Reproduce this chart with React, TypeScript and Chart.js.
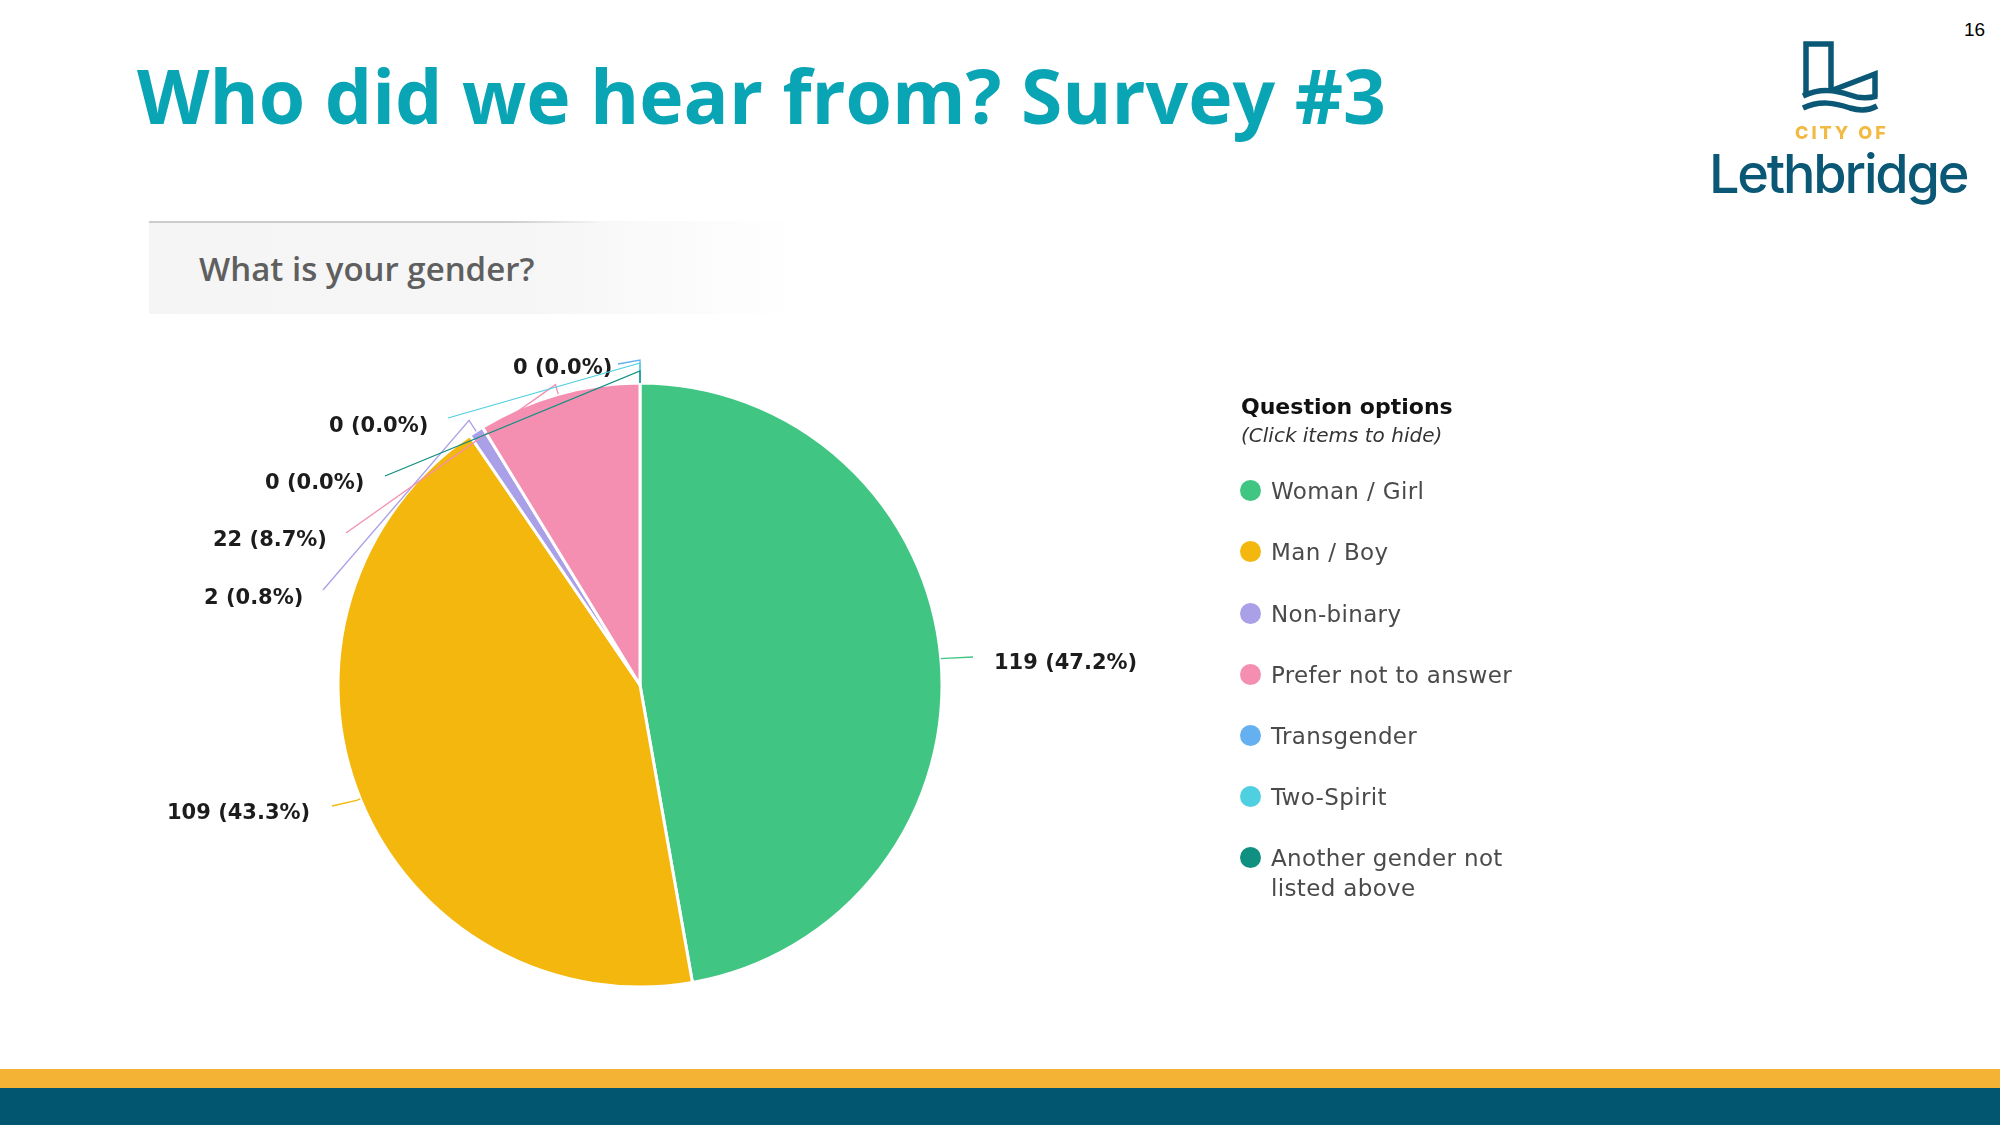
import React, { useRef, useEffect } from 'react';
import { Chart, registerables } from 'chart.js';

Chart.register(...registerables);

const categories = ['Woman / Girl', 'Man / Boy', 'Non-binary', 'Prefer not to answer', 'Transgender', 'Two-Spirit', 'Another gender not listed above'];
const counts = [119, 109, 2, 22, 0, 0, 0];
const colors = ['#41c582', '#f3b70d', '#a9a0e8', '#f48fb1', '#64b0f0', '#4fd0e0', '#0f9080'];

// canvas sits at top 340 on the page, so y values here are canvas y
const calloutLayout = [
    { out: 4, endX: 973, endY: 317, textX: 994, textY: 324 },
    { out: 4, endX: 332, endY: 466, textX: 167, textY: 474 },
    { out: 13, endX: 323, endY: 250, textX: 204, textY: 259 },
    { out: 10, endX: 346, endY: 193, textX: 213, textY: 201 },
    { out: 23, endX: 618, endY: 24, textX: 513, textY: 29 },
    { out: 20, endX: 448, endY: 78, textX: 329, textY: 87 },
    { out: 12, endX: 385, endY: 136, textX: 265, textY: 144 },
];

const total = counts.reduce((a, b) => a + b, 0);

const calloutPlugin = {
    id: 'callouts',
    afterDatasetsDraw(chart: any) {
        const ctx = chart.ctx;
        const arcs = chart.getDatasetMeta(0).data;
        ctx.save();
        arcs.forEach((arc: any, i: number) => {
            const l = calloutLayout[i];
            const mid = (arc.startAngle + arc.endAngle) / 2;
            const r = arc.outerRadius;
            ctx.strokeStyle = colors[i];
            ctx.lineWidth = 1.3;
            ctx.beginPath();
            ctx.moveTo(arc.x + Math.cos(mid) * r, arc.y + Math.sin(mid) * r);
            ctx.lineTo(arc.x + Math.cos(mid) * (r + l.out), arc.y + Math.sin(mid) * (r + l.out));
            ctx.lineTo(l.endX, l.endY);
            ctx.stroke();

            const pct = ((counts[i] / total) * 100).toFixed(1);
            ctx.fillStyle = '#1c1c1c';
            ctx.font = 'bold 21px "DejaVu Sans"';
            ctx.textAlign = 'left';
            ctx.textBaseline = 'middle';
            ctx.fillText(`${counts[i]} (${pct}%)`, l.textX, l.textY);
        });
        ctx.restore();
    },
};

const abs = (left: number, top: number, extra: React.CSSProperties): React.CSSProperties => ({
    position: 'absolute',
    left,
    top,
    whiteSpace: 'nowrap',
    ...extra,
});

const legendTops = [491, 552, 614, 675, 736, 797, 858];

const App: React.FC = () => {
    const chartRef = useRef<HTMLCanvasElement | null>(null);

    useEffect(() => {
        if (!chartRef.current) return;
        const chartInstance = new Chart(chartRef.current, {
            type: 'pie',
            data: {
                labels: categories,
                datasets: [{
                    data: counts,
                    backgroundColor: colors,
                    borderColor: '#ffffff',
                    borderWidth: 3,
                    radius: 302,
                }],
            },
            options: {
                responsive: false,
                animation: false,
                devicePixelRatio: 1,
                plugins: {
                    legend: { display: false },
                    tooltip: { enabled: false },
                },
            },
            plugins: [calloutPlugin],
        } as any);
        return () => {
            chartInstance.destroy();
        };
    }, []);

    return (
        <div style={{ position: 'absolute', left: 0, top: 0, width: 2000, height: 1125, overflow: 'hidden', background: '#fff' }}>
            <div style={abs(137, 43, { font: 'bold 75px "Open Sans"', color: '#0aa5b5', lineHeight: '104px' })}>
                Who did we hear from? Survey #3
            </div>
            <div style={abs(1964, 19, { font: '19px "Liberation Sans"', color: '#000' })}>16</div>

            <div style={{
                position: 'absolute', left: 149, top: 221, width: 650, height: 93,
                background: 'linear-gradient(to right, #f5f5f5 0%, #f6f6f6 60%, #ffffff 100%)',
            }} />
            <div style={{
                position: 'absolute', left: 149, top: 221, width: 450, height: 2,
                background: 'linear-gradient(to right, #cccccc 80%, #f5f5f5 100%)',
            }} />
            <div style={abs(199, 246, { font: '600 33px "Open Sans"', color: '#5f5f5f', lineHeight: '46px' })}>
                What is your gender?
            </div>

            <canvas ref={chartRef} width={1280} height={690} style={{ position: 'absolute', left: 0, top: 340 }} />

            <div style={abs(1241, 393, { font: 'bold 22px "DejaVu Sans"', color: '#111', lineHeight: '28px' })}>Question options</div>
            <div style={abs(1241, 424, { font: 'italic 20px "DejaVu Sans"', color: '#333', lineHeight: '22px' })}>(Click items to hide)</div>
            {categories.map((c, i) => (
                <React.Fragment key={c}>
                    <div style={{
                        position: 'absolute', left: 1240, top: legendTops[i] - 11, width: 21, height: 21,
                        borderRadius: '50%', background: colors[i],
                    }} />
                    <div style={abs(1271, legendTops[i] - 15, {
                        font: '23px "DejaVu Sans"', color: '#4a4a4a', lineHeight: '30px', letterSpacing: 0.35,
                        width: 250, whiteSpace: 'normal',
                    })}>{c}</div>
                </React.Fragment>
            ))}

            <svg width={2000} height={1125} style={{ position: 'absolute', left: 0, top: 0, pointerEvents: 'none' }}>
                <g fill="none" stroke="#0a5875" strokeWidth={5.5}>
                    <path d="M1806,93 V44 H1831 V91" />
                    <path d="M1833,90 L1875,74 V97" />
                    <path d="M1803,96 C1820,88 1835,90 1850,95 C1860,99 1870,98 1877,96" />
                    <path d="M1803,108 C1820,100 1835,103 1850,108 C1860,111 1870,110 1877,106" />
                </g>
                <text x={1795} y={139} fontFamily="Inter" fontWeight={800} fontSize={18} letterSpacing={3} fill="#f2b943">CITY OF</text>
                <text x={1709} y={193} fontFamily="Inter" fontWeight={500} fontSize={54} letterSpacing={-2.2} fill="#0a5875">Lethbridge</text>
            </svg>

            <div style={{ position: 'absolute', left: 0, top: 1069, width: 2000, height: 19, background: '#f5b335' }} />
            <div style={{ position: 'absolute', left: 0, top: 1088, width: 2000, height: 37, background: '#03566f' }} />
        </div>
    );
};

export default App;
